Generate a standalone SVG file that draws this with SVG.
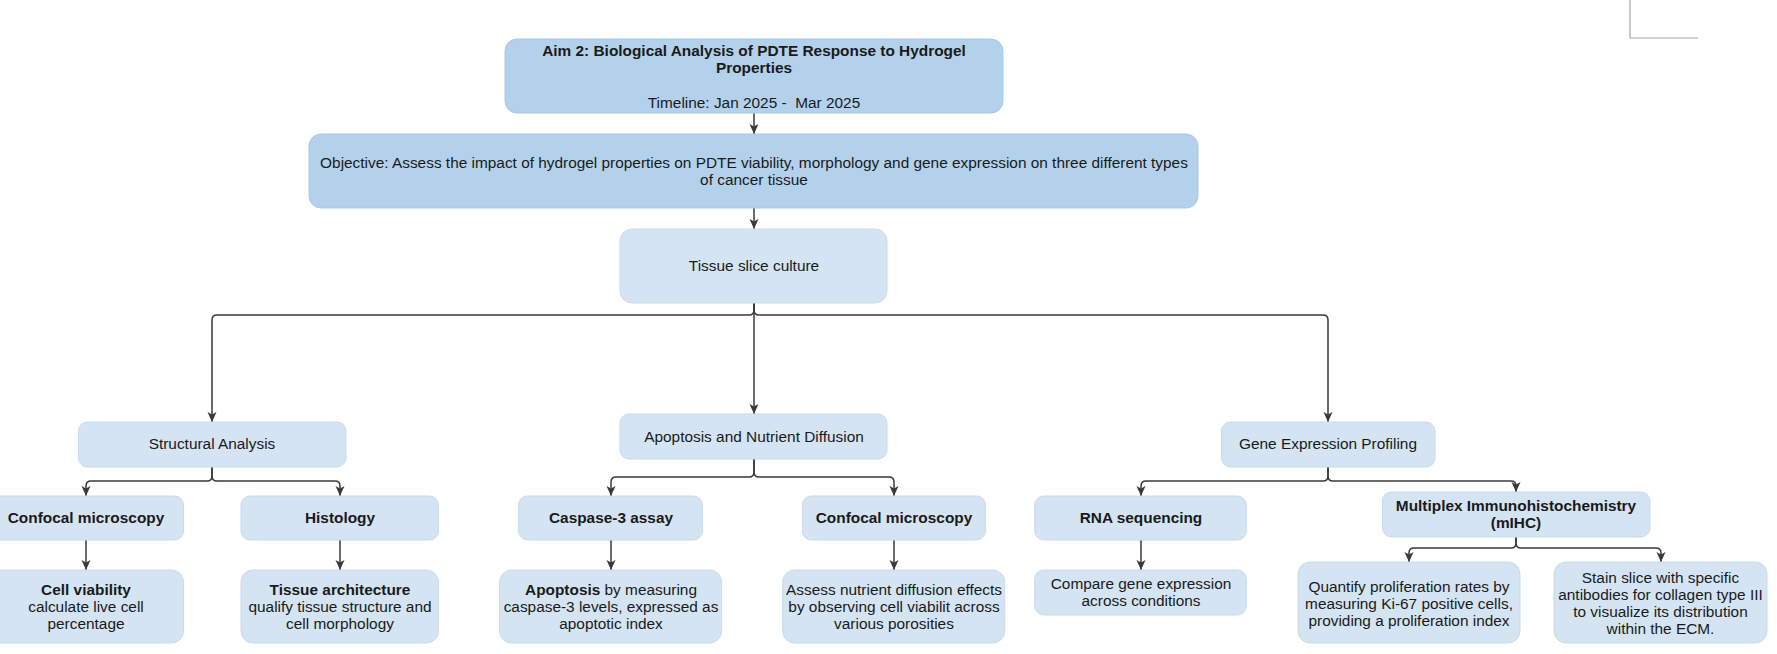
<svg xmlns="http://www.w3.org/2000/svg" width="1777" height="654" viewBox="0 0 1777 654">
<defs>
<style>
.dk{fill:#b3d1eb;stroke:#a9c9e6;stroke-width:1}
.lt{fill:#d4e4f2;stroke:#c8dbee;stroke-width:1}
text{font-family:"Liberation Sans",Arial,sans-serif;font-size:15.4px;fill:#1a1a1a;text-anchor:middle}
.b{font-weight:bold}
.e{fill:none;stroke:#3a3a3a;stroke-width:1.5;marker-end:url(#ah)}
</style>
<marker id="ah" viewBox="-1 -6 12 12" refX="10" refY="0" markerWidth="12" markerHeight="12" markerUnits="userSpaceOnUse" orient="auto">
<path d="M0,-4.5 L10,0 L0,4.5 L2.5,0 Z" fill="#3a3a3a"/>
</marker>
</defs>
<rect width="1777" height="654" fill="#ffffff"/>
<path d="M1630,0 V38 H1698" fill="none" stroke="#aaaaaa" stroke-width="1.2"/>

<g id="connectors">
<path class="e" d="M754,113 V134"/>
<path class="e" d="M754,208 V229"/>
<path class="e" d="M754,303 V310 Q754,315 749,315 H217 Q212,315 212,320 V422"/>
<path class="e" d="M754,303 V414"/>
<path class="e" d="M754,303 V310 Q754,315 759,315 H1323 Q1328,315 1328,320 V422"/>
<path class="e" d="M212,467 V476 Q212,481 207,481 H91 Q86,481 86,486 V496"/>
<path class="e" d="M212,467 V476 Q212,481 217,481 H335 Q340,481 340,486 V496"/>
<path class="e" d="M754,459 V472 Q754,477 749,477 H616 Q611,477 611,482 V496"/>
<path class="e" d="M754,459 V472 Q754,477 759,477 H889 Q894,477 894,482 V496"/>
<path class="e" d="M1328,467 V476 Q1328,481 1323,481 H1146 Q1141,481 1141,486 V496"/>
<path class="e" d="M1328,467 V476 Q1328,481 1333,481 H1511 Q1516,481 1516,486 V492"/>
<path class="e" d="M86,540 V570"/>
<path class="e" d="M340,540 V570"/>
<path class="e" d="M611,540 V570"/>
<path class="e" d="M894,540 V570"/>
<path class="e" d="M1141,540 V570"/>
<path class="e" d="M1516,537 V543 Q1516,548 1511,548 H1414 Q1409,548 1409,553 V562"/>
<path class="e" d="M1516,537 V543 Q1516,548 1521,548 H1656 Q1661,548 1661,553 V562"/>
</g>

<g id="aim">
<rect class="dk" x="505" y="39" width="498" height="74" rx="12"/>
<text x="754" y="56" class="b">Aim 2: Biological Analysis of PDTE Response to Hydrogel</text>
<text x="754" y="73" class="b">Properties</text>
<text x="754" y="108">Timeline: Jan 2025 -&#160; Mar 2025</text>
</g>
<g id="objective">
<rect class="dk" x="309" y="134" width="889" height="74" rx="12"/>
<text x="754" y="168">Objective: Assess the impact of hydrogel properties on PDTE viability, morphology and gene expression on three different types</text>
<text x="754" y="185">of cancer tissue</text>
</g>
<g id="tissue">
<rect class="lt" x="620" y="229" width="267" height="74" rx="12"/>
<text x="754" y="271">Tissue slice culture</text>
</g>
<g id="structural">
<rect class="lt" x="78.5" y="422" width="267.5" height="45" rx="9"/>
<text x="212" y="449">Structural Analysis</text>
</g>
<g id="apoptosis-diffusion">
<rect class="lt" x="620" y="414" width="267" height="45" rx="9"/>
<text x="754" y="442">Apoptosis and Nutrient Diffusion</text>
</g>
<g id="gene-expression">
<rect class="lt" x="1221.5" y="422" width="213.5" height="45" rx="9"/>
<text x="1328" y="449">Gene Expression Profiling</text>
</g>
<g id="confocal1">
<rect class="lt" x="-12" y="496" width="195.5" height="44" rx="9"/>
<text x="86" y="523" class="b">Confocal microscopy</text>
</g>
<g id="histology">
<rect class="lt" x="241" y="496" width="197.5" height="44" rx="9"/>
<text x="340" y="523" class="b">Histology</text>
</g>
<g id="caspase">
<rect class="lt" x="518.6" y="496" width="183.8" height="44" rx="9"/>
<text x="611" y="523" class="b">Caspase-3 assay</text>
</g>
<g id="confocal2">
<rect class="lt" x="802.4" y="496" width="183" height="44" rx="9"/>
<text x="894" y="523" class="b">Confocal microscopy</text>
</g>
<g id="rna">
<rect class="lt" x="1034.7" y="496" width="211.6" height="44" rx="9"/>
<text x="1141" y="523" class="b">RNA sequencing</text>
</g>
<g id="mihc">
<rect class="lt" x="1382.5" y="492" width="267.5" height="45" rx="9"/>
<text x="1516" y="511" class="b">Multiplex Immunohistochemistry</text>
<text x="1516" y="528" class="b">(mIHC)</text>
</g>
<g id="cell-viability">
<rect class="lt" x="-12" y="570" width="195.5" height="73" rx="12"/>
<text x="86" y="595" class="b">Cell viability</text>
<text x="86" y="612">calculate live cell</text>
<text x="86" y="629">percentage</text>
</g>
<g id="tissue-architecture">
<rect class="lt" x="241" y="570" width="197.5" height="73" rx="12"/>
<text x="340" y="595" class="b">Tissue architecture</text>
<text x="340" y="612">qualify tissue structure and</text>
<text x="340" y="629">cell morphology</text>
</g>
<g id="apoptosis-index">
<rect class="lt" x="499.6" y="570" width="222" height="73" rx="12"/>
<text x="611" y="595"><tspan class="b">Apoptosis</tspan> by measuring</text>
<text x="611" y="612">caspase-3 levels, expressed as</text>
<text x="611" y="629">apoptotic index</text>
</g>
<g id="nutrient">
<rect class="lt" x="782.7" y="570" width="222" height="73" rx="12"/>
<text x="894" y="595">Assess nutrient diffusion effects</text>
<text x="894" y="612">by observing cell viabilit across</text>
<text x="894" y="629">various porosities</text>
</g>
<g id="compare">
<rect class="lt" x="1034.7" y="570" width="211.6" height="45" rx="9"/>
<text x="1141" y="589">Compare gene expression</text>
<text x="1141" y="606">across conditions</text>
</g>
<g id="quantify">
<rect class="lt" x="1298" y="562" width="222" height="81" rx="12"/>
<text x="1409" y="592">Quantify proliferation rates by</text>
<text x="1409" y="609">measuring Ki-67 positive cells,</text>
<text x="1409" y="626">providing a proliferation index</text>
</g>
<g id="stain">
<rect class="lt" x="1554" y="562" width="213" height="81" rx="12"/>
<text x="1660.5" y="583">Stain slice with specific</text>
<text x="1660.5" y="600">antibodies for collagen type III</text>
<text x="1660.5" y="617">to visualize its distribution</text>
<text x="1660.5" y="634">within the ECM.</text>
</g>
</svg>
